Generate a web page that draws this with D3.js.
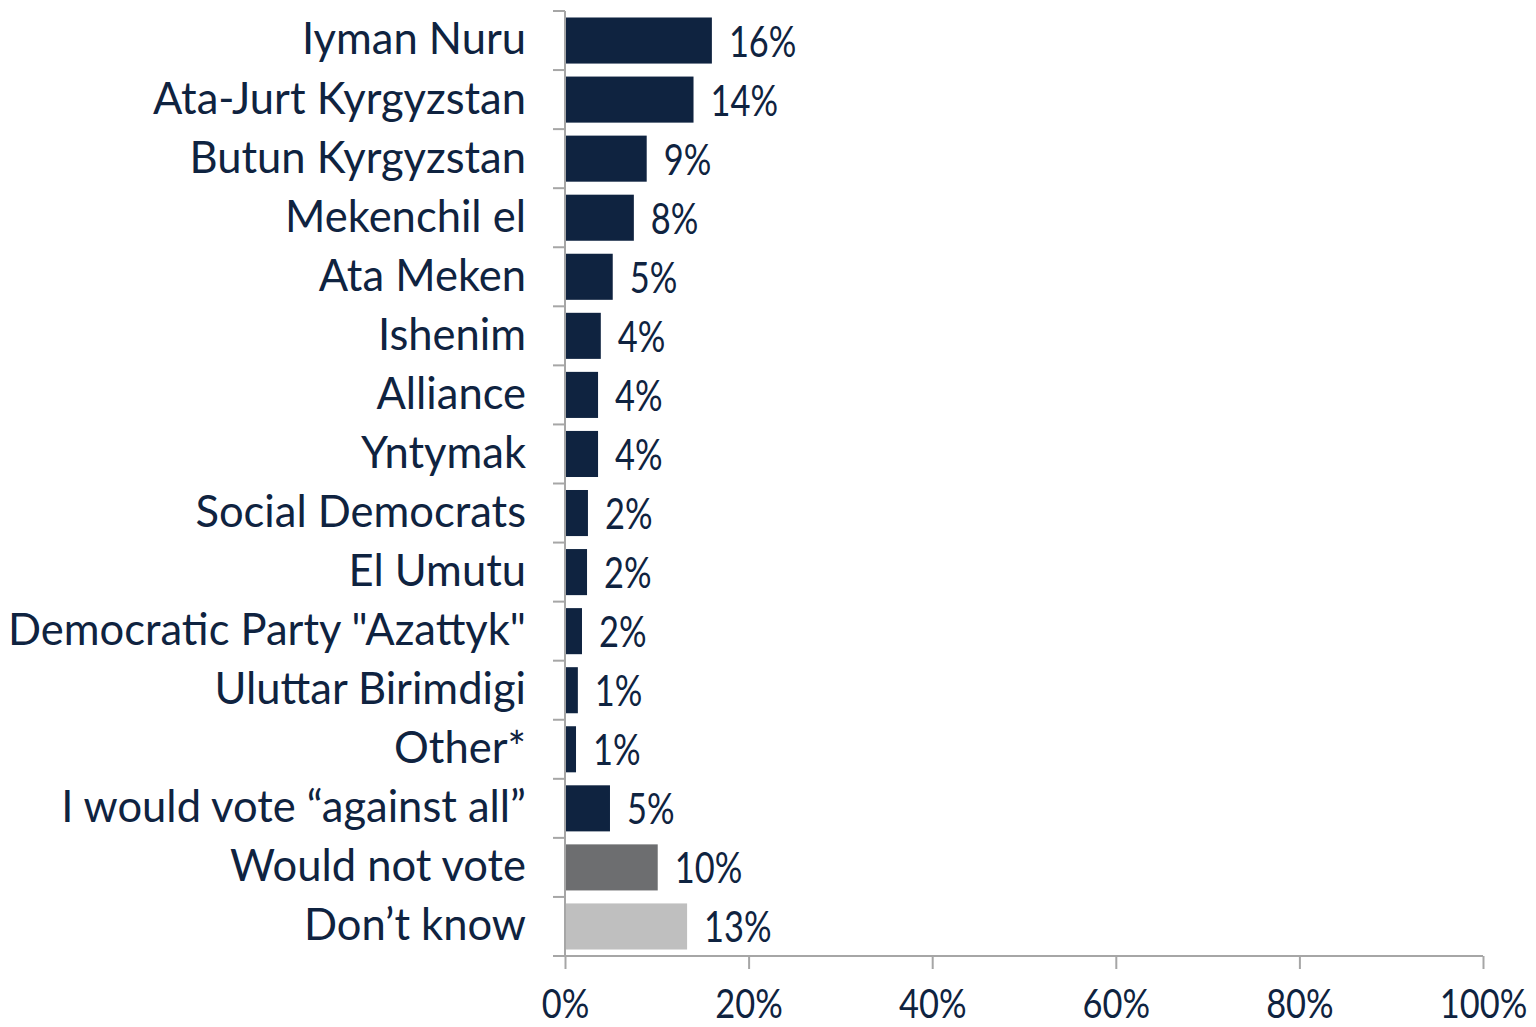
<!DOCTYPE html>
<html><head><meta charset="utf-8">
<script src="https://cdn.jsdelivr.net/npm/d3@7"></script>
<style>body{margin:0;background:#fff}svg{display:block}text{font-family:Lato,"Open Sans",sans-serif;fill:#0f2340}</style>
</head><body><svg id="c" width="1536" height="1027"></svg>
<script>
const categories = ["Iyman Nuru","Ata-Jurt Kyrgyzstan","Butun Kyrgyzstan","Mekenchil el","Ata Meken","Ishenim","Alliance","Yntymak","Social Democrats","El Umutu","Democratic Party \"Azattyk\"","Uluttar Birimdigi","Other*","I would vote \u201cagainst all\u201d","Would not vote","Don\u2019t know"];
const values = [16,14,8.9,7.5,5.2,3.9,3.6,3.6,2.5,2.4,1.85,1.4,1.2,4.9,10.1,13.3];
const valueLabels = ["16%","14%","9%","8%","5%","4%","4%","4%","2%","2%","2%","1%","1%","5%","10%","13%"];
const groups = ["party","party","party","party","party","party","party","party","party","party","party","party","party","party","novote","dk"];
const xTicks = [0,20,40,60,80,100];

const colors = {party:"#0f2340", novote:"#6d6e70", dk:"#bfbfbf"};
const svg = d3.select("#c");
const x = d3.scaleLinear().domain([0,100]).range([565,1483]);
const y = d3.scaleBand().domain(categories).range([11,956]).paddingInner(0.22).paddingOuter(0.11);
const axisColor = "#a6a6a6";
const numScale = 0.82;

// bars
svg.selectAll("rect.bar").data(categories).join("rect")
  .attr("x", x(0)).attr("y", d => y(d))
  .attr("width", (d,i) => x(values[i]) - x(0))
  .attr("height", y.bandwidth())
  .attr("fill", (d,i) => colors[groups[i]]);

// y axis line and separators
const step = y.step();
svg.append("line").attr("x1",x(0)).attr("x2",x(0)).attr("y1",11).attr("y2",956).attr("stroke",axisColor).attr("stroke-width",2);
d3.range(categories.length+1).forEach(i=>{
  const yy = 11 + i*step;
  svg.append("line").attr("x1",553).attr("x2",x(0)).attr("y1",yy).attr("y2",yy).attr("stroke",axisColor).attr("stroke-width",2);
});
// x axis
const xa = svg.append("g").attr("transform","translate(0,956)")
  .call(d3.axisBottom(x).tickValues(xTicks).tickSize(13).tickPadding(0).tickFormat(d=>d+"%"));
xa.select(".domain").attr("stroke",axisColor).attr("stroke-width",2).attr("d","M553,0H1483");
xa.selectAll(".tick line").attr("stroke",axisColor).attr("stroke-width",2);
xa.selectAll(".tick text").style("font-size","41px").style("fill","#0f2340")
  .attr("y",0).attr("dy",null)
  .attr("transform",`translate(0,62) scale(0.84,1)`);

// category labels
svg.selectAll("text.cat").data(categories).join("text")
  .attr("class","cat")
  .attr("x",526).attr("y",d=>y(d)+y.bandwidth()/2)
  .attr("dy","0.32em").attr("text-anchor","end")
  .style("font-size","43.5px").text(d=>d);

// value labels
svg.selectAll("text.val").data(categories).join("text")
  .attr("class","val")
  .attr("transform",(d,i)=>`translate(${x(values[i])+17},${y(d)+y.bandwidth()/2+16}) scale(${numScale},1)`)
  .style("font-size","42px").text((d,i)=>valueLabels[i]);
</script></body></html>
